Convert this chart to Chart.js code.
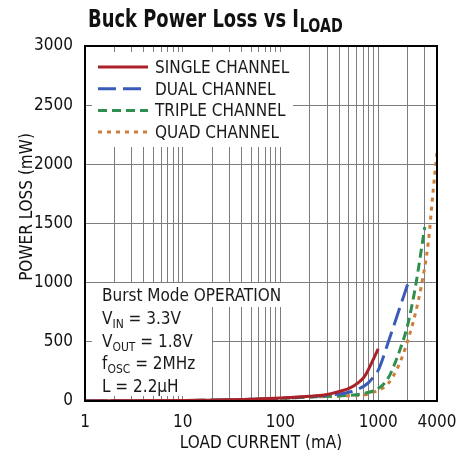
<!DOCTYPE html>
<html>
<head>
<meta charset="utf-8">
<script src="https://cdn.jsdelivr.net/npm/chart.js@4.4.1/dist/chart.umd.min.js"></script>
<style>
html, body { margin: 0; padding: 0; background: #fff; }
</style>
</head>
<body>
<canvas id="chart" width="456" height="462"></canvas>
<script>
const FONT = "'DejaVu Sans Condensed', 'Liberation Sans', sans-serif";
const SIZE = 17;

// tick values on the log axis (grid at every one, labels only on a few)
const gridCurrents = [1,2,3,4,5,6,7,8,9,10,20,30,40,50,60,70,80,90,100,200,300,400,500,600,700,800,900,1000,2000,3000,4000];
const labelCurrents = [1, 10, 100, 1000, 4000];

const seriesNames = ['SINGLE CHANNEL', 'DUAL CHANNEL', 'TRIPLE CHANNEL', 'QUAD CHANNEL'];

const singleCurrent = [1, 10, 30, 100, 200, 280, 330, 418, 490, 560, 698, 760, 850, 1000];
const singleLoss    = [1, 4, 10, 25, 40, 50, 62, 85, 103, 127, 190, 234, 316, 440];

const dualCurrent = [1, 10, 30, 100, 200, 330, 451, 620, 785, 900, 1000, 1260, 1600, 2000];
const dualLoss    = [1, 4, 10, 23, 38, 52, 65, 99, 150, 205, 258, 490, 745, 985];

const tripleCurrent = [1, 10, 30, 100, 200, 330, 490, 725, 1000, 1260, 1600, 2000, 2400, 3000];
const tripleLoss    = [1, 4, 10, 22, 34, 40, 47, 65, 105, 190, 390, 640, 960, 1470];

const quadCurrent = [1, 10, 30, 100, 200, 330, 490, 725, 1000, 1260, 1600, 1900, 2370, 2773, 3250, 3660, 4000];
const quadLoss    = [1, 4, 10, 22, 33, 39, 44, 52, 90, 145, 290, 450, 720, 980, 1333, 1784, 2100];

const colors = ['#ab2128', '#3a5cb8', '#2f8f4e', '#cd7f3a'];
const dashes = [[], [18, 7], [9, 5], [4, 5]];

const toPoints = (xs, ys) => xs.map((x, i) => ({ x: x, y: ys[i] }));
const allData = [
    toPoints(singleCurrent, singleLoss),
    toPoints(dualCurrent, dualLoss),
    toPoints(tripleCurrent, tripleLoss),
    toPoints(quadCurrent, quadLoss)
];

const notes = [
    [['Burst Mode OPERATION', false]],
    [['V', false], ['IN', true], [' = 3.3V', false]],
    [['V', false], ['OUT', true], [' = 1.8V', false]],
    [['f', false], ['OSC', true], [' = 2MHz', false]],
    [['L = 2.2µH', false]]
];

function drawParts(ctx, x, y, parts, size, subSize) {
    parts.forEach(([text, sub]) => {
        ctx.font = `${sub ? subSize : size}px ${FONT}`;
        ctx.fillText(text, x, sub ? y + 4 : y);
        x += ctx.measureText(text).width;
    });
}

const overlay = {
    id: 'overlay',
    beforeDatasetsDraw(chart) {
        const ctx = chart.ctx;
        const a = chart.chartArea;
        ctx.save();
        // white panels that hide the grid behind legend and notes
        ctx.fillStyle = '#fff';
        ctx.fillRect(a.left + 7, a.top + 6, 201, 95);
        ctx.fillRect(a.left + 7, a.bottom - 118, 192, 24);
        ctx.fillRect(a.left + 7, a.bottom - 95, 120, 90);

        // legend
        ctx.fillStyle = '#1a1a1a';
        ctx.textBaseline = 'alphabetic';
        seriesNames.forEach((name, i) => {
            const cy = a.top + 21 + i * 21.7;
            ctx.strokeStyle = colors[i];
            ctx.lineWidth = 3;
            ctx.setLineDash(dashes[i]);
            ctx.beginPath();
            ctx.moveTo(a.left + 13, cy);
            ctx.lineTo(a.left + 63, cy);
            ctx.stroke();
            ctx.setLineDash([]);
            ctx.font = `${SIZE}px ${FONT}`;
            ctx.fillText(name, a.left + 70, cy + 6);
        });

        // conditions text
        notes.forEach((parts, i) => {
            const cy = a.bottom - 106 + i * 22.75;
            drawParts(ctx, a.left + 17, cy + 6, parts, SIZE, 12);
        });
        ctx.restore();
    },
    afterDraw(chart) {
        const ctx = chart.ctx;
        const a = chart.chartArea;
        ctx.save();
        ctx.strokeStyle = '#000';
        ctx.lineWidth = 2;
        ctx.strokeRect(a.left, a.top, a.right - a.left, a.bottom - a.top);

        // title, squeezed to a condensed look
        ctx.fillStyle = '#111';
        ctx.save();
        ctx.translate(88, 0);
        ctx.scale(0.83, 1);
        ctx.font = `bold 24px ${FONT}`;
        ctx.fillText('Buck Power Loss vs I', 0, 27);
        const w = ctx.measureText('Buck Power Loss vs I').width;
        ctx.font = `bold 19px ${FONT}`;
        ctx.fillText('LOAD', w + 1, 32);
        ctx.restore();

        // y axis title
        ctx.translate(28, 207);
        ctx.rotate(-Math.PI / 2);
        ctx.font = `${SIZE}px ${FONT}`;
        ctx.textAlign = 'center';
        ctx.textBaseline = 'middle';
        ctx.fillText('POWER LOSS (mW)', 0, 0);
        ctx.restore();
    }
};

const chartElement = document.getElementById('chart').getContext('2d');

new Chart(chartElement, {
    type: 'line',
    data: {
        datasets: allData.map((pts, i) => ({
            label: seriesNames[i],
            data: pts,
            borderColor: colors[i],
            borderWidth: 3,
            borderDash: dashes[i],
            fill: false,
            pointRadius: 0,
            cubicInterpolationMode: 'monotone'
        }))
    },
    options: {
        responsive: false,
        animation: false,
        layout: { padding: { left: 0, top: 46, right: 19, bottom: 0 } },
        plugins: {
            legend: { display: false },
            tooltip: { enabled: false }
        },
        scales: {
            x: {
                type: 'logarithmic',
                min: 1,
                max: 4000,
                afterBuildTicks: s => { s.ticks = gridCurrents.map(v => ({ value: v })); },
                afterFit: s => { s.height = 61; s.paddingLeft = 0; s.paddingRight = 0; },
                ticks: {
                    autoSkip: false,
                    maxRotation: 0,
                    padding: 11,
                    color: '#111',
                    font: { family: FONT, size: SIZE },
                    callback: v => labelCurrents.includes(v) ? String(v) : ''
                },
                grid: { color: '#7d7d7d', lineWidth: 1, drawTicks: false },
                border: { color: '#000', width: 2 },
                title: {
                    display: true,
                    text: 'LOAD CURRENT (mA)',
                    color: '#111',
                    font: { family: FONT, size: SIZE },
                    padding: { top: 0, bottom: 8 }
                }
            },
            y: {
                min: 0,
                max: 3000,
                afterFit: s => { s.width = 85; s.paddingTop = 0; s.paddingBottom = 0; },
                ticks: {
                    stepSize: 500,
                    padding: 12,
                    color: '#111',
                    font: { family: FONT, size: SIZE },
                    callback: v => String(v)
                },
                grid: { color: '#7d7d7d', lineWidth: 1, drawTicks: false },
                border: { color: '#000', width: 2 }
            }
        }
    },
    plugins: [overlay]
});
</script>
</body>
</html>
